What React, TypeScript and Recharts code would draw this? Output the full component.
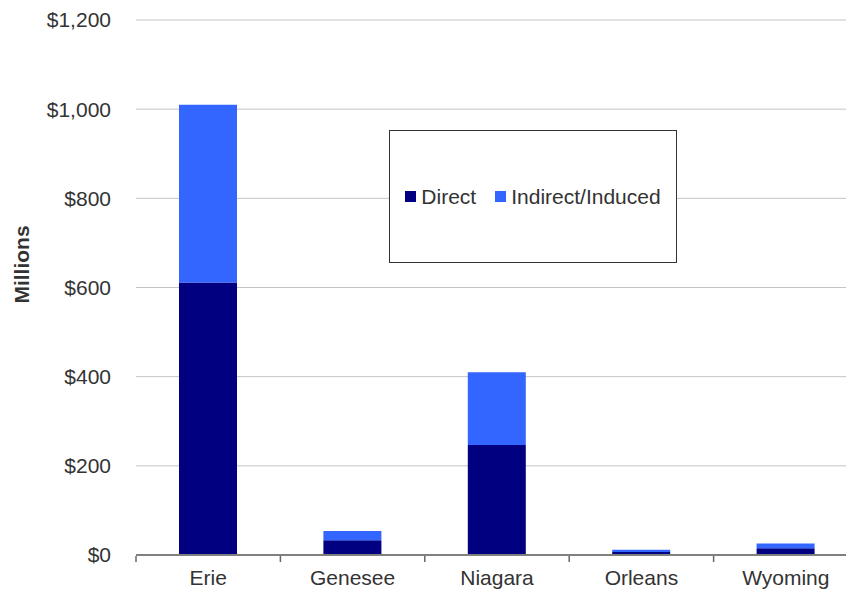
import React from 'react';
import { BarChart, Bar, XAxis, YAxis, CartesianGrid, Legend } from 'recharts';

const counties = ['Erie', 'Genesee', 'Niagara', 'Orleans', 'Wyoming'];
const directValues = [611, 33, 247, 7, 15];
const indirectValues = [399, 21, 163, 5, 11];
const yTicks = [0, 200, 400, 600, 800, 1000, 1200];
const edgeTicks = [0, 1, 2, 3, 4, 5];

const data = counties.map((name, i) => ({
  name,
  slot: i + 0.5,
  direct: directValues[i],
  indirect: indirectValues[i],
}));

const TEXT = '#333333';
const FONT = '"Liberation Sans", Arial, sans-serif';

const LegendBox = (props: any) => {
  const payload = props.payload || [];
  return (
    <div
      style={{
        width: '100%',
        height: '100%',
        display: 'flex',
        alignItems: 'center',
        justifyContent: 'center',
        fontFamily: FONT,
        fontSize: 21,
        color: TEXT,
      }}
    >
      {payload.map((entry: any, i: number) => (
        <div
          key={entry.value}
          style={{ display: 'flex', alignItems: 'center', marginLeft: i === 0 ? 0 : 19 }}
        >
          <span
            style={{
              display: 'inline-block',
              width: 11,
              height: 11,
              background: entry.color,
              marginRight: 5,
            }}
          />
          <span style={{ lineHeight: '24px' }}>{entry.value}</span>
        </div>
      ))}
    </div>
  );
};

const YTitle = (props: any) => {
  const vb = props.viewBox || { x: 0, y: 0, width: 0, height: 0 };
  const cx = vb.x + 21;
  const cy = vb.y + vb.height / 2 - 23;
  return (
    <text
      x={cx}
      y={cy}
      transform={`rotate(-90, ${cx}, ${cy})`}
      textAnchor="middle"
      dominantBaseline="central"
      fontSize={21}
      fontWeight="bold"
      fill={TEXT}
      fontFamily={FONT}
    >
      Millions
    </text>
  );
};

export default function App() {
  return (
    <div
      style={{
        position: 'absolute',
        left: 0,
        top: 0,
        width: 846,
        height: 591,
        overflow: 'hidden',
        fontFamily: FONT,
      }}
    >
      <BarChart
        width={868}
        height={591}
        data={data}
        margin={{ top: 20, right: 10, bottom: 0, left: 0 }}
      >
        <CartesianGrid vertical={false} stroke="#c4c4c4" xAxisId="cat" />
        <XAxis
          xAxisId="edges"
          dataKey="slot"
          type="number"
          domain={[0, 5]}
          ticks={edgeTicks}
          allowDataOverflow
          interval={0}
          height={35}
          tick={{ fontSize: 1, fill: 'none' }}
          tickFormatter={() => ''}
          tickSize={6}
          tickLine={{ stroke: '#666666', strokeWidth: 1.5 }}
          axisLine={false}
        />
        <XAxis
          xAxisId="cat"
          dataKey="name"
          height={1}
          axisLine={{ stroke: '#808080', strokeWidth: 2 }}
          tickLine={false}
          tickSize={0}
          tickMargin={15}
          tick={{ fontSize: 21, fill: TEXT, fontFamily: FONT }}
        />
        <YAxis
          width={136}
          domain={[0, 1200]}
          ticks={yTicks}
          axisLine={false}
          tickLine={false}
          tickSize={0}
          tickMargin={25}
          tick={{ fontSize: 21, fill: TEXT, fontFamily: FONT }}
          tickFormatter={(v: number) => '$' + v.toLocaleString('en-US')}
          label={<YTitle />}
        />
        <Legend
          layout="horizontal"
          verticalAlign="middle"
          align="center"
          content={<LegendBox />}
          wrapperStyle={{
            left: 389,
            top: 130,
            width: 288,
            height: 133,
            border: '1px solid #333',
            background: '#ffffff',
            boxSizing: 'border-box',
          }}
        />
        <Bar
          xAxisId="cat"
          dataKey="direct"
          name="Direct"
          stackId="a"
          fill="#000080"
          barSize={58}
          isAnimationActive={false}
        />
        <Bar
          xAxisId="cat"
          dataKey="indirect"
          name="Indirect/Induced"
          stackId="a"
          fill="#3366ff"
          barSize={58}
          isAnimationActive={false}
        />
      </BarChart>
    </div>
  );
}
